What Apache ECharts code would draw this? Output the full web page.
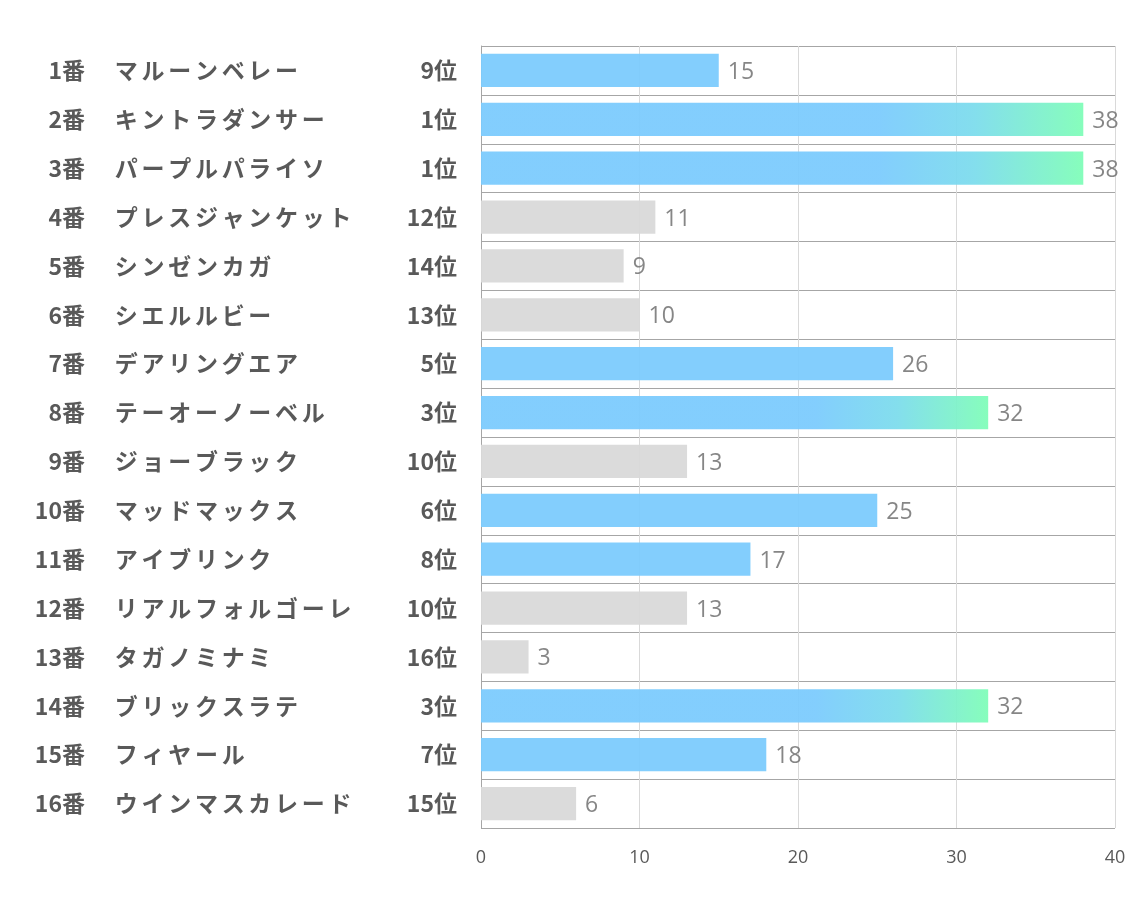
<!DOCTYPE html>
<html><head><meta charset="utf-8">
<script src="https://cdn.jsdelivr.net/npm/echarts@6/dist/echarts.min.js"></script>
<style>html,body{margin:0;padding:0;background:#fff}#c{width:1134px;height:907px}</style>
</head><body><div id="c"></div>
<script>
const numbers = ['1番','2番','3番','4番','5番','6番','7番','8番','9番','10番','11番','12番','13番','14番','15番','16番'];
const names = ['マルーンベレー','キントラダンサー','パープルパライソ','プレスジャンケット','シンゼンカガ','シエルルビー','デアリングエア','テーオーノーベル','ジョーブラック','マッドマックス','アイブリンク','リアルフォルゴーレ','タガノミナミ','ブリックスラテ','フィヤール','ウインマスカレード'];
const ranks = [9,1,1,12,14,13,5,3,10,6,8,10,16,3,7,15];
const values = [15,38,38,11,9,10,26,32,13,25,17,13,3,32,18,6];
const xTicks = [0,10,20,30,40];

const blue = '#7ccbfd';
const green = '#80fdb8';
const grey = '#d9d9d9';
function colorFor(rank){
  if (rank <= 4) return new echarts.graphic.LinearGradient(0,0,1,0,[
    {offset:0,color:blue},{offset:0.66,color:blue},{offset:0.82,color:'#7ddcec'},{offset:1,color:green}]);
  if (rank <= 9) return blue;
  return grey;
}
const rankLabels = ranks.map(r => r + '位');
const labelFont = {fontFamily:'"Noto Sans CJK JP"', fontWeight:'bold', fontSize:23, color:'#595959'};

const chart = echarts.init(document.getElementById('c'));
chart.setOption({
  animation:false,
  grid:{left:481, right:19, top:46, bottom:79},
  xAxis:{type:'value', min:xTicks[0], max:xTicks[xTicks.length-1], interval:10,
    axisLine:{show:false}, axisTick:{show:false},
    splitLine:{show:true, lineStyle:{color:'#d9d9d9', width:1}},
    axisLabel:{margin:21, fontSize:18, color:'#595959', fontFamily:'"Open Sans"'}},
  yAxis:[
    {type:'category', inverse:true, data:rankLabels,
      axisLine:{show:true, lineStyle:{color:'#a6a6a6'}}, axisTick:{show:false},
      splitLine:{show:true, lineStyle:{color:'#a6a6a6', width:1}},
      axisLabel:Object.assign({margin:24, align:'right'}, labelFont)},
    {type:'category', inverse:true, data:names, position:'left',
      axisLine:{show:false}, axisTick:{show:false}, splitLine:{show:false},
      axisLabel:Object.assign({margin:368, align:'left',
        formatter: s => Array.from(s).map(ch => '{k|' + ch + '}').join(''),
        rich:{k:Object.assign({width:26.7, align:'center'}, labelFont)}}, labelFont)},
    {type:'category', inverse:true, data:numbers, position:'left',
      axisLine:{show:false}, axisTick:{show:false}, splitLine:{show:false},
      axisLabel:Object.assign({margin:396, align:'right'}, labelFont)}
  ],
  series:[{
    type:'bar', yAxisIndex:0, barCategoryGap:'32%',
    data: values.map((v,i)=>({value:v, itemStyle:{color:colorFor(ranks[i]), opacity:0.95}})),
    label:{show:true, position:'right', distance:9, offset:[0,2], color:'#7f7f7f', fontSize:23, fontFamily:'"Open Sans"'}
  }]
});
</script></body></html>
